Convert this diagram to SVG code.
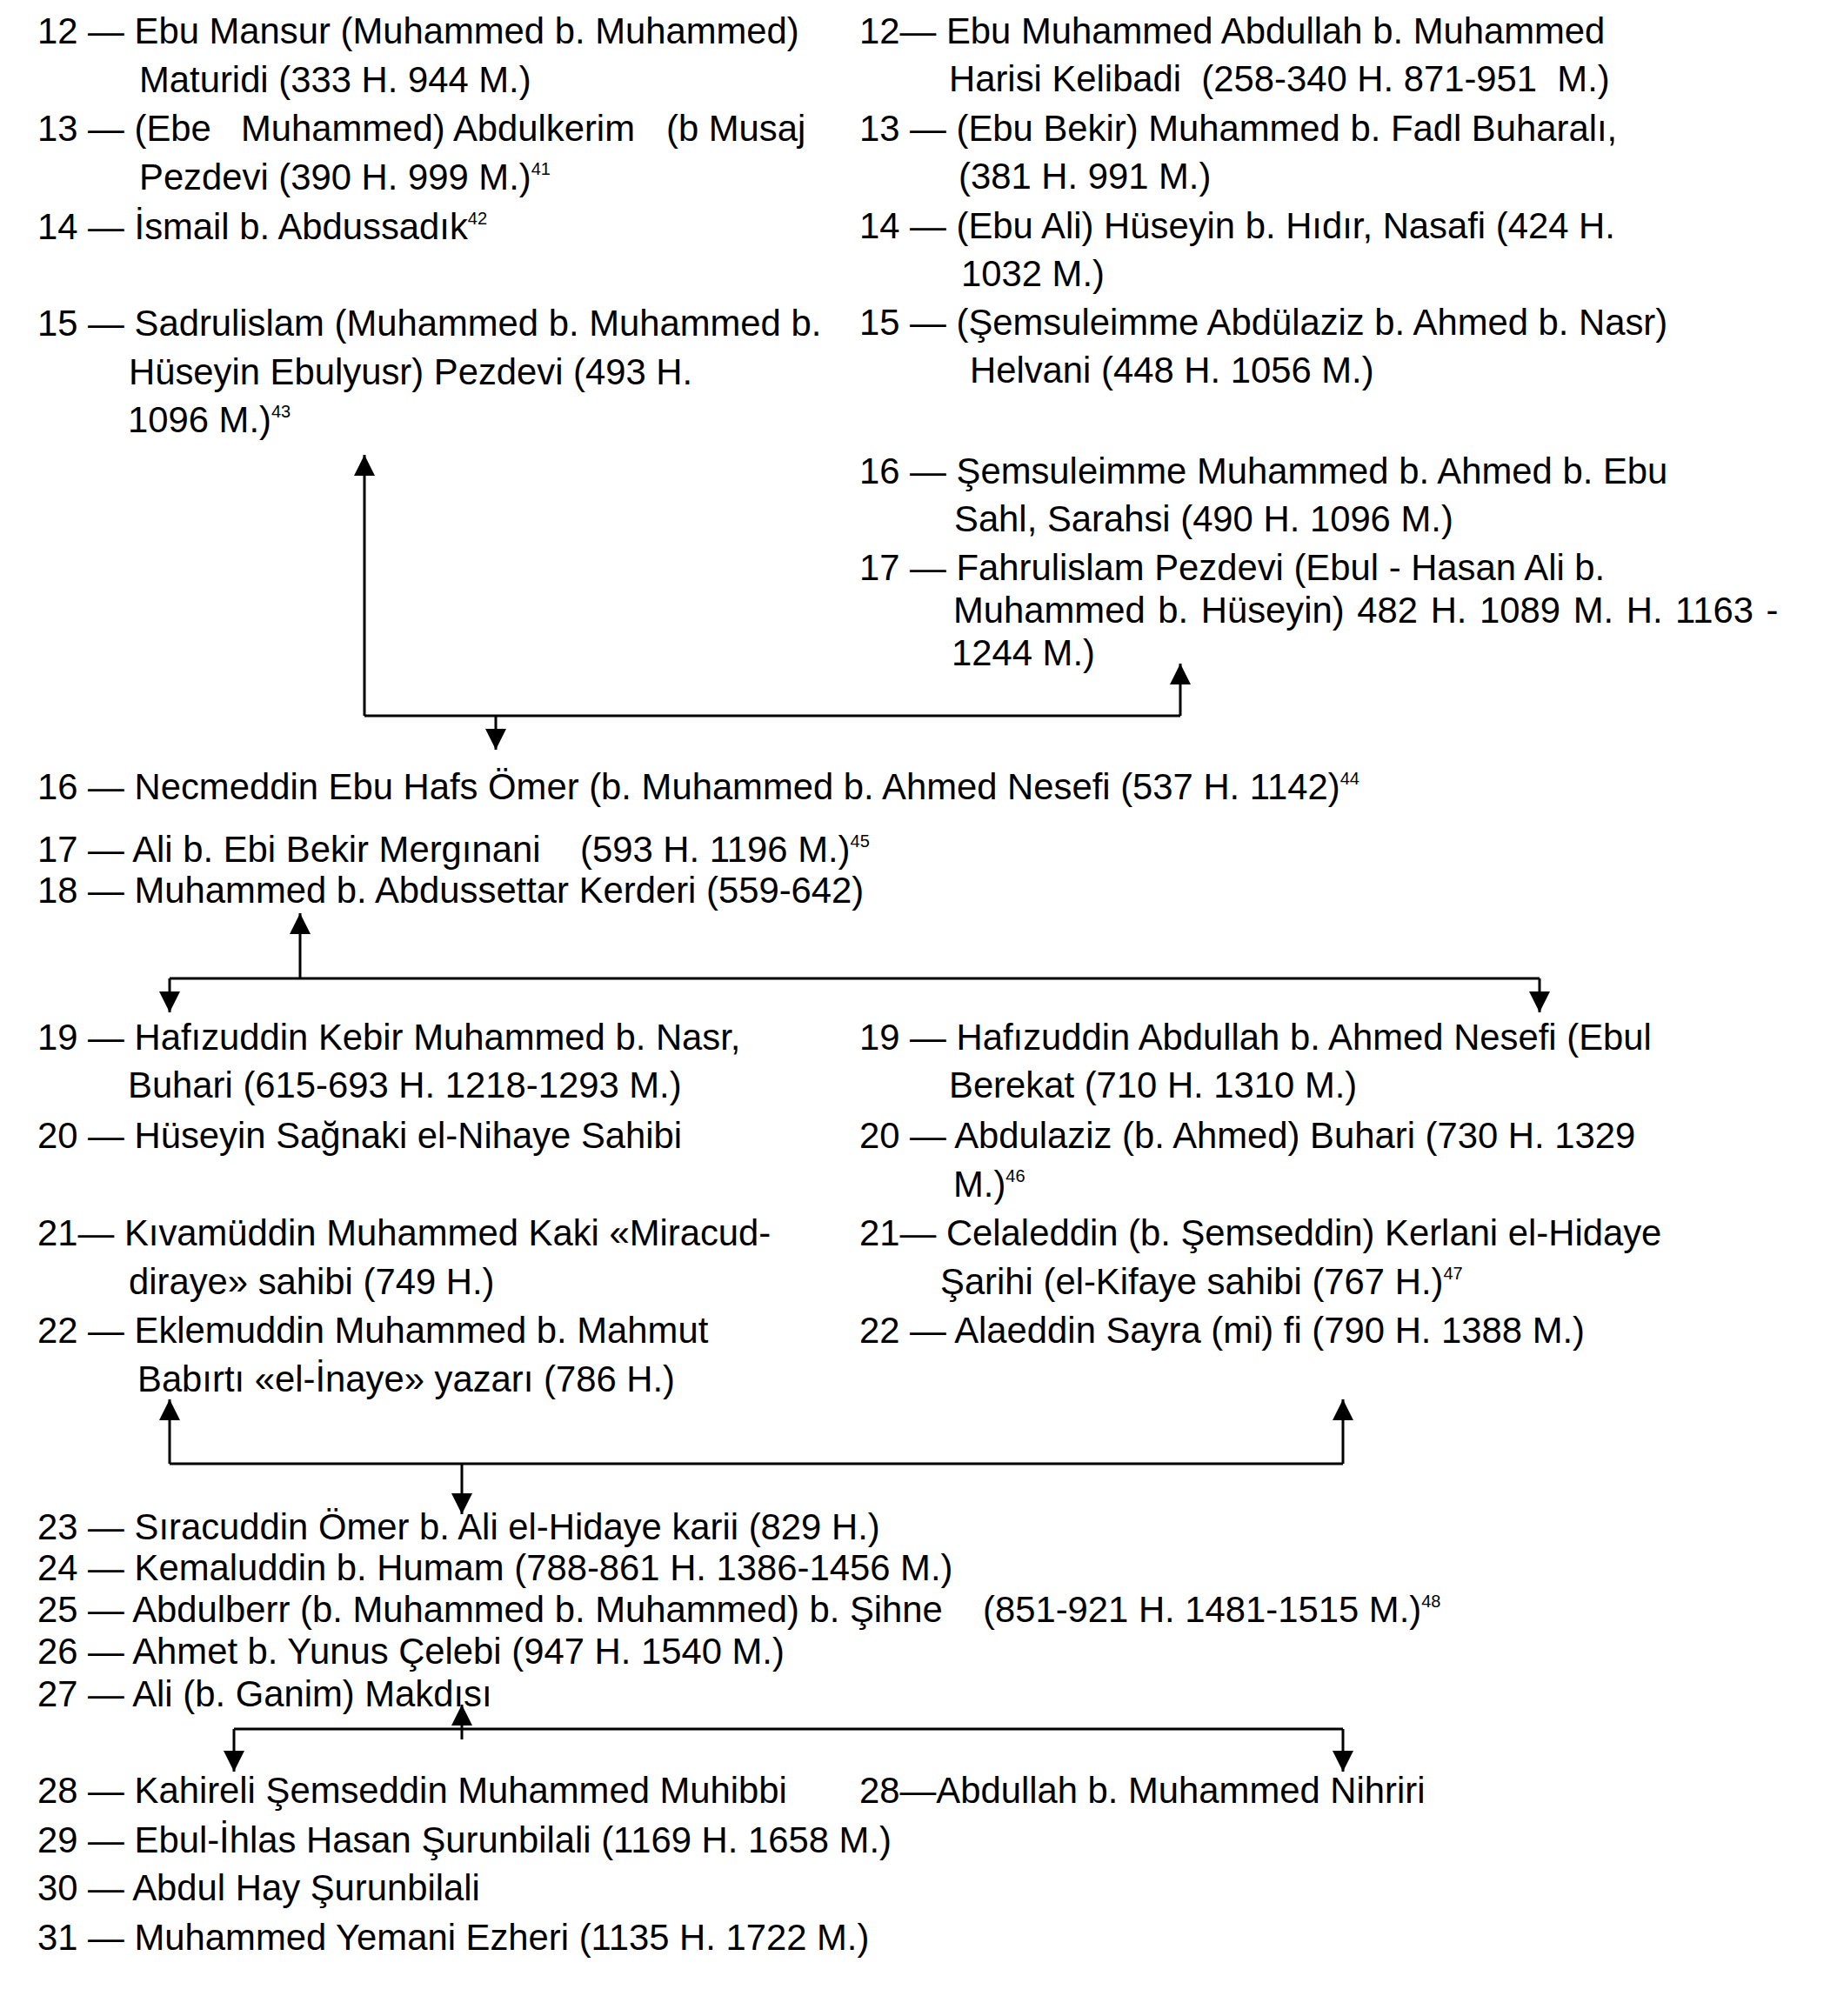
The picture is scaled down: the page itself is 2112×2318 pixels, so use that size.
<svg xmlns="http://www.w3.org/2000/svg" width="2112" height="2318" viewBox="0 0 2112 2318">
<style>
.t{font-family:"Liberation Sans",Arial,sans-serif;font-size:41.8px;fill:#000;white-space:pre}
.s{font-size:20px}
.c{fill:none;stroke:#000;stroke-width:3}
.a{marker-end:url(#ah)}
</style>
<defs>
<marker id="ah" viewBox="0 0 24 24" refX="24" refY="12" markerWidth="24" markerHeight="24" markerUnits="userSpaceOnUse" orient="auto">
<path d="M0,0 L24,12 L0,24 Z" fill="#000"/>
</marker>
</defs>
<rect width="2112" height="2318" fill="#fff"/>

<g id="n-l12"><text class="t" x="43" y="50">12 — Ebu Mansur (Muhammed b. Muhammed)</text><text class="t" x="160" y="106">Maturidi (333 H. 944 M.)</text></g>
<g id="n-l13"><text class="t" y="162"><tspan x="43">13 — (Ebe</tspan><tspan x="277">Muhammed) Abdulkerim</tspan><tspan x="766">(b Musaj</tspan></text><text class="t" x="160" y="218">Pezdevi (390 H. 999 M.)<tspan class="s" dy="-17">41</tspan></text></g>
<g id="n-l14"><text class="t" x="43" y="275">14 — İsmail b. Abdussadık<tspan class="s" dy="-17">42</tspan></text></g>
<g id="n-l15"><text class="t" x="43" y="386">15 — Sadrulislam (Muhammed b. Muhammed b.</text><text class="t" x="148" y="442">Hüseyin Ebulyusr) Pezdevi (493 H.</text><text class="t" x="147" y="497">1096 M.)<tspan class="s" dy="-17">43</tspan></text></g>

<g id="n-r12"><text class="t" x="988" y="50">12— Ebu Muhammed Abdullah b. Muhammed</text><text class="t" x="1091" y="105">Harisi Kelibadi  (258-340 H. 871-951  M.)</text></g>
<g id="n-r13"><text class="t" x="988" y="162">13 — (Ebu Bekir) Muhammed b. Fadl Buharalı,</text><text class="t" x="1102" y="217">(381 H. 991 M.)</text></g>
<g id="n-r14"><text class="t" x="988" y="274">14 — (Ebu Ali) Hüseyin b. Hıdır, Nasafi (424 H.</text><text class="t" x="1105" y="329">1032 M.)</text></g>
<g id="n-r15"><text class="t" x="988" y="385">15 — (Şemsuleimme Abdülaziz b. Ahmed b. Nasr)</text><text class="t" x="1115" y="440">Helvani (448 H. 1056 M.)</text></g>
<g id="n-r16"><text class="t" x="988" y="556">16 — Şemsuleimme Muhammed b. Ahmed b. Ebu</text><text class="t" x="1097" y="611">Sahl, Sarahsi (490 H. 1096 M.)</text></g>
<g id="n-r17"><text class="t" x="988" y="667">17 — Fahrulislam Pezdevi (Ebul - Hasan Ali b.</text><text class="t" x="1096" y="716" word-spacing="3">Muhammed b. Hüseyin) 482 H. 1089 M. H. 1163 -</text><text class="t" x="1094" y="765">1244 M.)</text></g>

<g id="n-16"><text class="t" x="43" y="919">16 — Necmeddin Ebu Hafs Ömer (b. Muhammed b. Ahmed Nesefi (537 H. 1142)<tspan class="s" dy="-17">44</tspan></text></g>
<g id="n-17"><text class="t" y="991"><tspan x="43">17 — Ali b. Ebi Bekir Mergınani</tspan><tspan x="667">(593 H. 1196 M.)</tspan><tspan class="s" dy="-17">45</tspan></text></g>
<g id="n-18"><text class="t" x="43" y="1038">18 — Muhammed b. Abdussettar Kerderi (559-642)</text></g>

<g id="n-l19"><text class="t" x="43" y="1207">19 — Hafızuddin Kebir Muhammed b. Nasr,</text><text class="t" x="147" y="1262">Buhari (615-693 H. 1218-1293 M.)</text></g>
<g id="n-r19"><text class="t" x="988" y="1207">19 — Hafızuddin Abdullah b. Ahmed Nesefi (Ebul</text><text class="t" x="1091" y="1262">Berekat (710 H. 1310 M.)</text></g>
<g id="n-l20"><text class="t" x="43" y="1320">20 — Hüseyin Sağnaki el-Nihaye Sahibi</text></g>
<g id="n-r20"><text class="t" x="988" y="1320">20 — Abdulaziz (b. Ahmed) Buhari (730 H. 1329</text><text class="t" x="1096" y="1376">M.)<tspan class="s" dy="-17">46</tspan></text></g>
<g id="n-l21"><text class="t" x="43" y="1432">21— Kıvamüddin Muhammed Kaki «Miracud-</text><text class="t" x="148" y="1488">diraye» sahibi (749 H.)</text></g>
<g id="n-r21"><text class="t" x="988" y="1432">21— Celaleddin (b. Şemseddin) Kerlani el-Hidaye</text><text class="t" x="1081" y="1488">Şarihi (el-Kifaye sahibi (767 H.)<tspan class="s" dy="-17">47</tspan></text></g>
<g id="n-l22"><text class="t" x="43" y="1544">22 — Eklemuddin Muhammed b. Mahmut</text><text class="t" x="158" y="1600">Babırtı «el-İnaye» yazarı (786 H.)</text></g>
<g id="n-r22"><text class="t" x="988" y="1544">22 — Alaeddin Sayra (mi) fi (790 H. 1388 M.)</text></g>

<g id="n-23"><text class="t" x="43" y="1770">23 — Sıracuddin Ömer b. Ali el-Hidaye karii (829 H.)</text></g>
<g id="n-24"><text class="t" x="43" y="1817">24 — Kemaluddin b. Humam (788-861 H. 1386-1456 M.)</text></g>
<g id="n-25"><text class="t" y="1865"><tspan x="43">25 — Abdulberr (b. Muhammed b. Muhammed) b. Şihne</tspan><tspan x="1130">(851-921 H. 1481-1515 M.)</tspan><tspan class="s" dy="-17">48</tspan></text></g>
<g id="n-26"><text class="t" x="43" y="1913">26 — Ahmet b. Yunus Çelebi (947 H. 1540 M.)</text></g>
<g id="n-27"><text class="t" x="43" y="1962">27 — Ali (b. Ganim) Makdısı</text></g>
<g id="n-l28"><text class="t" x="43" y="2073">28 — Kahireli Şemseddin Muhammed Muhibbi</text></g>
<g id="n-r28"><text class="t" x="988" y="2073">28—Abdullah b. Muhammed Nihriri</text></g>
<g id="n-29"><text class="t" x="43" y="2130">29 — Ebul-İhlas Hasan Şurunbilali (1169 H. 1658 M.)</text></g>
<g id="n-30"><text class="t" x="43" y="2185">30 — Abdul Hay Şurunbilali</text></g>
<g id="n-31"><text class="t" x="43" y="2242">31 — Muhammed Yemani Ezheri (1135 H. 1722 M.)</text></g>

<g id="connectors">
<path class="c" d="M419,823 H1357"/>
<path class="c a" d="M419,823 V523"/>
<path class="c a" d="M1357,823 V763"/>
<path class="c a" d="M570,823 V862"/>

<path class="c a" d="M345,1125 V1050"/>
<path class="c" d="M195,1125 H1770"/>
<path class="c a" d="M195,1125 V1164"/>
<path class="c a" d="M1770,1125 V1164"/>

<path class="c a" d="M195,1683 V1609"/>
<path class="c a" d="M1544,1683 V1609"/>
<path class="c" d="M195,1683 H1544"/>
<path class="c a" d="M531,1683 V1741"/>

<path class="c a" d="M531,2000 V1960"/>
<path class="c" d="M269,1988 H1544"/>
<path class="c a" d="M269,1988 V2037"/>
<path class="c a" d="M1544,1988 V2037"/>
</g>
</svg>
